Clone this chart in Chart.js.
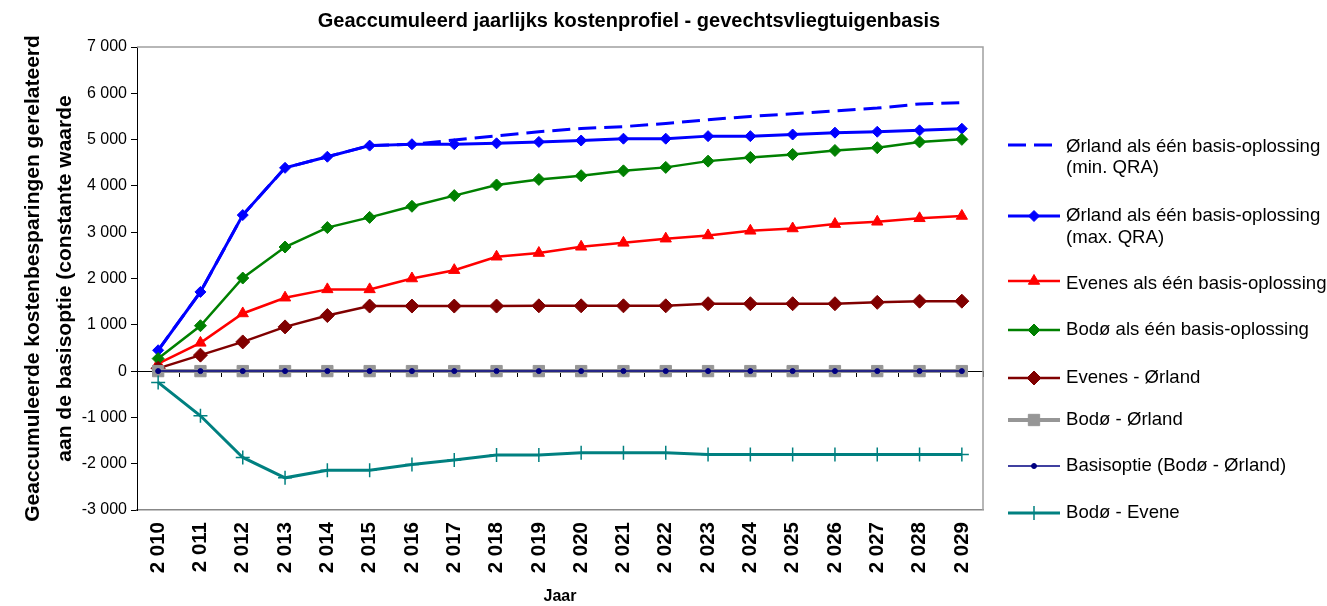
<!DOCTYPE html>
<html>
<head>
<meta charset="utf-8">
<script src="https://cdn.jsdelivr.net/npm/chart.js"></script>
<style>
html,body{margin:0;padding:0;background:#fff;}
#wrap{width:1327px;height:606px;position:relative;}
</style>
</head>
<body>
<div id="wrap"><canvas id="c"></canvas></div>
<script>
const FONT = "'Liberation Sans', Arial, sans-serif";

const chartTitle = "Geaccumuleerd jaarlijks kostenprofiel - gevechtsvliegtuigenbasis";
const yTitle = ["Geaccumuleerde kostenbesparingen gerelateerd", "aan de basisoptie (constante waarde"];
const xTitle = "Jaar";

const years = [2010, 2011, 2012, 2013, 2014, 2015, 2016, 2017, 2018, 2019, 2020, 2021, 2022, 2023, 2024, 2025, 2026, 2027, 2028, 2029];

const orlandMin    = [450, 1710, 3370, 4390, 4630, 4870, 4900, 4990, 5080, 5170, 5240, 5280, 5350, 5430, 5500, 5560, 5620, 5680, 5770, 5800];
const orlandMax    = [450, 1710, 3370, 4390, 4630, 4870, 4900, 4900, 4920, 4950, 4980, 5020, 5020, 5075, 5075, 5110, 5150, 5170, 5200, 5235];
const evenes       = [160, 610, 1245, 1585, 1765, 1765, 2000, 2180, 2470, 2550, 2685, 2770, 2860, 2930, 3030, 3080, 3175, 3225, 3300, 3350];
const bodo         = [270, 980, 2010, 2680, 3100, 3320, 3560, 3790, 4020, 4140, 4220, 4325, 4400, 4535, 4615, 4680, 4765, 4825, 4950, 5005];
const evenesOrland = [60, 345, 630, 955, 1200, 1405, 1405, 1405, 1405, 1410, 1410, 1410, 1410, 1455, 1455, 1455, 1455, 1485, 1510, 1510];
const bodoOrland   = [0, 0, 0, 0, 0, 0, 0, 0, 0, 0, 0, 0, 0, 0, 0, 0, 0, 0, 0, 0];
const basisoptie   = [0, 0, 0, 0, 0, 0, 0, 0, 0, 0, 0, 0, 0, 0, 0, 0, 0, 0, 0, 0];
const bodoEvene    = [-245, -965, -1865, -2305, -2140, -2140, -2015, -1920, -1810, -1810, -1765, -1765, -1765, -1800, -1800, -1800, -1800, -1800, -1800, -1800];

const seriesNames = [
  ["Ørland als één basis-oplossing", "(min. QRA)"],
  ["Ørland als één basis-oplossing", "(max. QRA)"],
  ["Evenes als één basis-oplossing"],
  ["Bodø als één basis-oplossing"],
  ["Evenes - Ørland"],
  ["Bodø - Ørland"],
  ["Basisoptie (Bodø - Ørland)"],
  ["Bodø - Evene"]
];

const yMin = -3000, yMax = 7000, yStep = 1000;

function fmt(v) {
  const s = Math.abs(v).toString().replace(/\B(?=(\d{3})+(?!\d))/g, ' ');
  return (v < 0 ? '-' : '') + s;
}
const categoryLabels = years.map(fmt);

const styles = [
  {color:'#0000FF', width:3, dash:[18,8], point:false, radius:0},
  {color:'#0000FF', width:3, point:'rectRot', radius:5.5},
  {color:'#FF0000', width:2.5, point:'triangle', radius:6.5},
  {color:'#008000', width:2.5, point:'rectRot', radius:6},
  {color:'#800000', width:2.5, point:'rectRot', radius:7},
  {color:'#969696', width:4, point:'rect', radius:8},
  {color:'#000080', width:1.5, point:'circle', radius:2.5},
  {color:'#008080', width:3, point:'cross', radius:7, pbw:1.5}
];
const allData = [orlandMin, orlandMax, evenes, bodo, evenesOrland, bodoOrland, basisoptie, bodoEvene];

const datasets = allData.map((d, i) => {
  const s = styles[i];
  return {
    label: seriesNames[i].join(' '),
    data: d,
    borderColor: s.color,
    backgroundColor: s.color,
    borderWidth: s.width,
    borderDash: s.dash || [],
    pointStyle: s.point,
    pointRadius: s.radius,
    pointBorderWidth: s.pbw || 1,
    pointBackgroundColor: s.color,
    pointBorderColor: s.color,
    pointHoverRadius: s.radius,
    tension: 0,
    fill: false,
    order: 8 - i
  };
});

// legend item layout (marker y, text line ys)
const legendLayout = [
  {my:145, ty:[147,168]},
  {my:216, ty:[216,238]},
  {my:281, ty:[284]},
  {my:330, ty:[330]},
  {my:378, ty:[378]},
  {my:420, ty:[420]},
  {my:466, ty:[466]},
  {my:513, ty:[513]}
];

function drawMarker(ctx, style, r, x, y, color, bw) {
  ctx.save();
  ctx.fillStyle = color; ctx.strokeStyle = color; ctx.lineWidth = bw || 1;
  ctx.setLineDash([]);
  ctx.beginPath();
  if (style === 'rectRot') {
    ctx.moveTo(x, y - r); ctx.lineTo(x + r, y); ctx.lineTo(x, y + r); ctx.lineTo(x - r, y); ctx.closePath();
    ctx.fill(); ctx.stroke();
  } else if (style === 'triangle') {
    const a = Math.PI * 2 / 3;
    ctx.moveTo(x, y - r);
    ctx.lineTo(x + Math.sin(a) * r, y - Math.cos(a) * r);
    ctx.lineTo(x + Math.sin(2 * a) * r, y - Math.cos(2 * a) * r);
    ctx.closePath(); ctx.fill(); ctx.stroke();
  } else if (style === 'rect') {
    const h = r * Math.SQRT1_2;
    ctx.rect(x - h, y - h, 2 * h, 2 * h); ctx.fill(); ctx.stroke();
  } else if (style === 'circle') {
    ctx.arc(x, y, r, 0, Math.PI * 2); ctx.fill(); ctx.stroke();
  } else if (style === 'cross') {
    ctx.moveTo(x, y - r); ctx.lineTo(x, y + r); ctx.moveTo(x - r, y); ctx.lineTo(x + r, y); ctx.stroke();
  }
  ctx.restore();
}

const framePlugin = {
  id: 'frame',
  beforeDatasetsDraw(chart) {
    const {ctx, chartArea: a} = chart;
    ctx.save();
    ctx.strokeStyle = '#a0a0a0';
    ctx.lineWidth = 1.5;
    ctx.beginPath();
    ctx.moveTo(a.left, a.top); ctx.lineTo(a.right, a.top); ctx.lineTo(a.right, a.bottom);
    ctx.stroke();
    ctx.restore();
  }
};

const titlePlugin = {
  id: 'customTitle',
  afterDraw(chart) {
    const ctx = chart.ctx;
    ctx.save();
    ctx.font = "bold 20px " + FONT;
    ctx.fillStyle = '#000';
    ctx.textAlign = 'center';
    ctx.textBaseline = 'middle';
    ctx.fillText(chartTitle, 629, 21);
    ctx.restore();
  }
};

const legendPlugin = {
  id: 'customLegend',
  afterDraw(chart) {
    const ctx = chart.ctx;
    const x0 = 1008, x1 = 1060, tx = 1066;
    chart.data.datasets.forEach((ds, i) => {
      const L = legendLayout[i];
      const s = styles[i];
      ctx.save();
      ctx.strokeStyle = ds.borderColor;
      ctx.lineWidth = ds.borderWidth;
      ctx.setLineDash(ds.borderDash || []);
      ctx.beginPath(); ctx.moveTo(x0, L.my); ctx.lineTo(x1, L.my); ctx.stroke();
      ctx.restore();
      if (s.point) drawMarker(ctx, s.point, s.radius, (x0 + x1) / 2, L.my, ds.pointBackgroundColor, ds.pointBorderWidth);
      ctx.save();
      ctx.font = "18.6px " + FONT;
      ctx.fillStyle = '#000';
      ctx.textAlign = 'left';
      ctx.textBaseline = 'middle';
      seriesNames[i].forEach((t, j) => ctx.fillText(t, tx, L.ty[j]));
      ctx.restore();
    });
  }
};

new Chart(document.getElementById('c'), {
  type: 'line',
  data: { labels: categoryLabels, datasets: datasets },
  options: {
    responsive: true,
    maintainAspectRatio: false,
    animation: false,
    layout: { padding: { left: 0, right: 344, top: 47, bottom: 0 } },
    plugins: { legend: { display: false }, title: { display: false }, tooltip: { enabled: false } },
    scales: {
      x: {
        type: 'category',
        position: 'bottom',
        offset: true,
        grid: { display: true, drawOnChartArea: false, drawTicks: false },
        border: { display: true, color: '#888', width: 1.5 },
        ticks: { autoSkip: false, minRotation: 90, maxRotation: 90, padding: 12, color: '#000', font: { family: FONT, size: 20.5, weight: 'bold' } },
        title: { display: true, text: xTitle, color: '#000', padding: { top: 0, bottom: 0 }, font: { family: FONT, size: 16, weight: 'bold' } },
        afterFit(scale) { scale.height = 96; }
      },
      x2: {
        type: 'category',
        axis: 'x',
        labels: categoryLabels,
        position: { y: 0 },
        offset: true,
        grid: { display: true, drawOnChartArea: false, drawTicks: true, tickLength: 5, color: '#000', offset: true },
        border: { display: true, color: '#000', width: 1 },
        ticks: { display: false }
      },
      y: {
        type: 'linear',
        position: 'left',
        min: yMin, max: yMax,
        ticks: { stepSize: yStep, padding: 4, color: '#000', callback: v => fmt(v), font: { family: FONT, size: 16 } },
        grid: { display: true, drawOnChartArea: false, drawTicks: true, tickLength: 6, color: '#000' },
        border: { display: true, color: '#000', width: 1 },
        title: { display: true, text: yTitle, color: '#000', padding: { top: 17, bottom: 0 }, font: { family: FONT, size: 21, weight: 'bold', lineHeight: 1.52 } },
        afterFit(scale) { scale.width = 137; }
      }
    }
  },
  plugins: [framePlugin, titlePlugin, legendPlugin]
});
</script>
</body>
</html>
